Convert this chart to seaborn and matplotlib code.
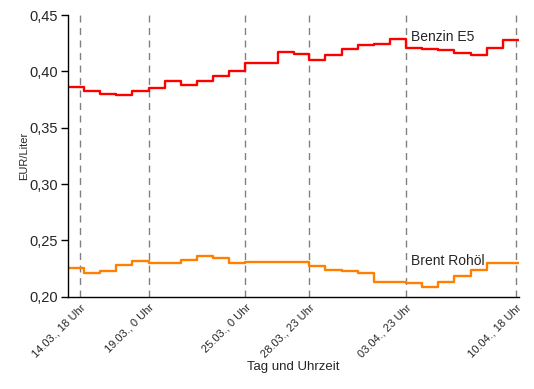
import pandas as pd
import numpy as np
import seaborn as sns
import matplotlib.pyplot as plt
from matplotlib.ticker import FuncFormatter

# daily prices (EUR/Liter), one value per day from 14.03. to 10.04.
benzin = [0.3866, 0.3830, 0.3804, 0.3795, 0.3830, 0.3854, 0.3919, 0.3884, 0.3919, 0.3964,
          0.4008, 0.4074, 0.4074, 0.4174, 0.4154, 0.4106, 0.4150, 0.4201, 0.4239, 0.4248,
          0.4292, 0.4212, 0.4201, 0.4192, 0.4165, 0.4145, 0.4210, 0.4281]
brent = [0.2259, 0.2214, 0.2229, 0.2285, 0.2318, 0.2303, 0.2303, 0.2330, 0.2365, 0.2347,
         0.2303, 0.2309, 0.2309, 0.2309, 0.2309, 0.2276, 0.2241, 0.2232, 0.2214, 0.2134,
         0.2134, 0.2125, 0.2090, 0.2131, 0.2188, 0.2238, 0.2303, 0.2303]

# tick positions (marked days)
tick_times = ["2021-03-14 18:00", "2021-03-19 00:00", "2021-03-25 00:00",
              "2021-03-28 23:00", "2021-04-03 23:00", "2021-04-10 18:00"]

# day starts at local midnight, shown in winter time (UTC+1)
days = pd.date_range("2021-03-14", periods=len(benzin) + 1, freq="D", tz="Europe/Berlin")
days = days.tz_convert("Etc/GMT-1").tz_localize(None)

df = pd.DataFrame({"zeit": days,
                   "Benzin E5": benzin + benzin[-1:],
                   "Brent Rohöl": brent + brent[-1:]})

sns.set_style("white")
plt.rcParams["font.family"] = ["Liberation Sans", "DejaVu Sans"]

fig = plt.figure(figsize=(5.34, 3.89), dpi=100)
ax = fig.add_axes([0.127, 0.237, 0.845, 0.724])

sns.lineplot(data=df, x="zeit", y="Benzin E5", color="#ff0000", linewidth=1.7,
             drawstyle="steps-post", ax=ax)
sns.lineplot(data=df, x="zeit", y="Brent Rohöl", color="#ff8000", linewidth=1.7,
             drawstyle="steps-post", ax=ax)

ticks = pd.to_datetime(tick_times)
for t in ticks:
    ax.axvline(t, color="#808080", linestyle=(0, (5, 4)), linewidth=1, zorder=0)

ax.set_xlim(days[0], days[-1])
ax.set_ylim(0.20, 0.45)
ax.set_yticks([0.20, 0.25, 0.30, 0.35, 0.40, 0.45])
ax.yaxis.set_major_formatter(FuncFormatter(lambda v, p: f"{v:.2f}".replace(".", ",")))
ax.set_xticks(ticks)
ax.set_xticklabels([f"{t.day:02d}.{t.month:02d}., {t.hour} Uhr" for t in ticks],
                   rotation=45, ha="right", rotation_mode="anchor", fontsize=8)
ax.tick_params(axis="y", labelsize=10.5, length=5, width=1, color="black", pad=2, left=True)
ax.tick_params(axis="x", length=0, pad=4)

for s in ["top", "right"]:
    ax.spines[s].set_visible(False)
for s in ["left", "bottom"]:
    ax.spines[s].set_color("black")
    ax.spines[s].set_linewidth(1)

ax.set_xlabel("Tag und Uhrzeit", fontsize=9.5, labelpad=1)
ax.set_ylabel("EUR/Liter", fontsize=8, labelpad=0)

ax.text(ticks[4] + pd.Timedelta(hours=7), 0.4245, "Benzin E5", fontsize=10, va="bottom")
ax.text(ticks[4] + pd.Timedelta(hours=7), 0.226, "Brent Rohöl", fontsize=10, va="bottom")

fig.savefig("out.png", dpi=100)
